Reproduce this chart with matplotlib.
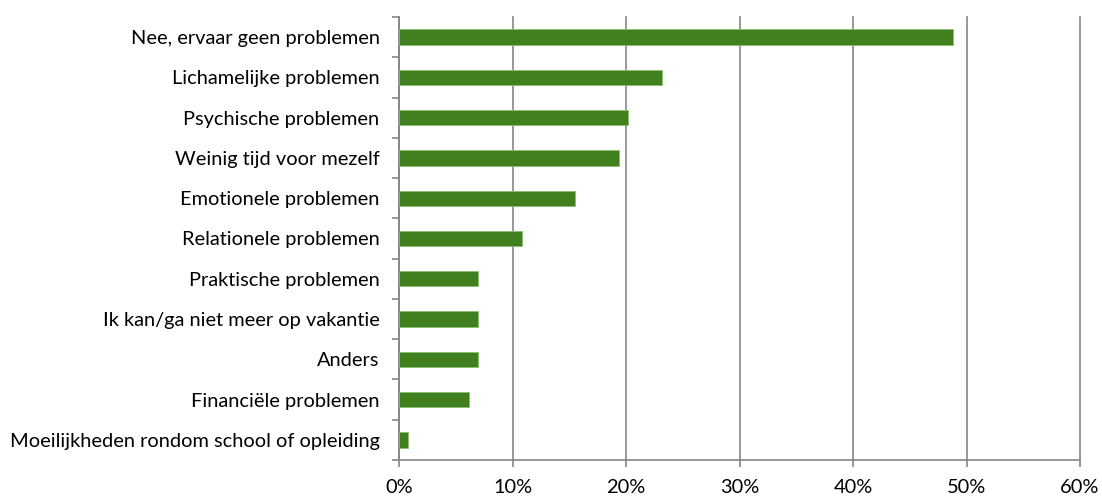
import matplotlib
matplotlib.use("Agg")
import matplotlib.pyplot as plt
from matplotlib.ticker import FuncFormatter

categories = [
    "Nee, ervaar geen problemen",
    "Lichamelijke problemen",
    "Psychische problemen",
    "Weinig tijd voor mezelf",
    "Emotionele problemen",
    "Relationele problemen",
    "Praktische problemen",
    "Ik kan/ga niet meer op vakantie",
    "Anders",
    "Financiële problemen",
    "Moeilijkheden rondom school of opleiding",
]
values = [48.8, 23.2, 20.2, 19.4, 15.5, 10.8, 7.0, 7.0, 7.0, 6.2, 0.8]
xticks = [0, 10, 20, 30, 40, 50, 60]

plt.rcParams['font.family'] = ['Lato', 'DejaVu Sans']

fig = plt.figure(figsize=(11.02, 4.96), dpi=100)
ax = fig.add_axes([399/1102, 1-460/496, (1080-399)/1102, (460-17)/496])

n = len(categories)
ypos = list(range(n))[::-1]
ax.barh(ypos, values, height=0.38, color="#41801F", edgecolor="#8CBF70", linewidth=0.6, zorder=3)

ax.set_xlim(0, 60)
ax.set_ylim(-0.5, n - 0.5)
ax.set_xticks(xticks)
ax.xaxis.set_major_formatter(FuncFormatter(lambda v, p: f"{int(v)}%"))
ax.set_yticks(ypos)
ax.set_yticklabels(categories)
ax.set_yticks([i - 0.5 for i in range(n + 1)], minor=True)
ax.tick_params(axis='y', which='major', length=0, pad=14, labelsize=14.4, labelcolor="#000000")
ax.tick_params(axis='y', which='minor', length=5, width=1.2, color="#868686")
ax.tick_params(axis='x', which='major', length=5, width=1.2, color="#868686", pad=9, labelsize=14.4)

ax.grid(axis='x', color="#868686", linewidth=1.2, zorder=0)
for gl in ax.get_xgridlines():
    gl.set_clip_on(False)
for s in ['top', 'right']:
    ax.spines[s].set_visible(False)
for s in ['left', 'bottom']:
    ax.spines[s].set_color("#868686")
    ax.spines[s].set_linewidth(1.2)

fig.savefig("out.png", dpi=100)
